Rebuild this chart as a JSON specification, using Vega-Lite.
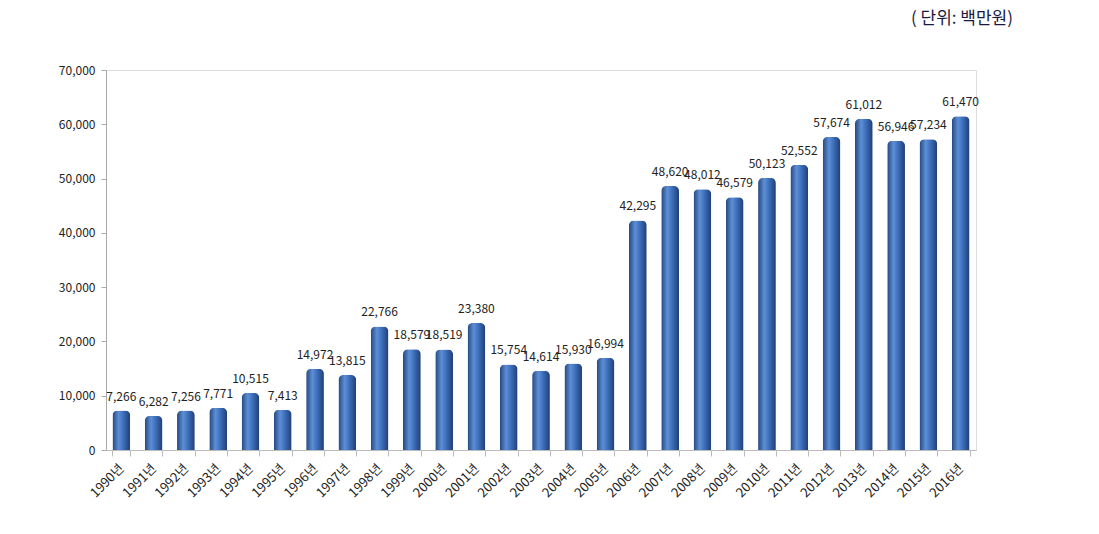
{
  "$schema": "https://vega.github.io/schema/vega-lite/v6.json",
  "autosize": {"type": "none"},
  "width": 870,
  "height": 380,
  "padding": {"left": 106, "top": 70, "right": 123, "bottom": 84},
  "background": "white",
  "title": {
    "text": "( 단위:  백만원)",
    "anchor": "end",
    "offset": 36,
    "dx": 34,
    "fontSize": 17,
    "font": "Noto Sans CJK KR",
    "fontWeight": "normal",
    "color": "#1a1a40"
  },
  "data": {
    "values": [
      {"year": "1990년", "value": 7266},
      {"year": "1991년", "value": 6282},
      {"year": "1992년", "value": 7256},
      {"year": "1993년", "value": 7771},
      {"year": "1994년", "value": 10515},
      {"year": "1995년", "value": 7413},
      {"year": "1996년", "value": 14972},
      {"year": "1997년", "value": 13815},
      {"year": "1998년", "value": 22766},
      {"year": "1999년", "value": 18579},
      {"year": "2000년", "value": 18519},
      {"year": "2001년", "value": 23380},
      {"year": "2002년", "value": 15754},
      {"year": "2003년", "value": 14614},
      {"year": "2004년", "value": 15930},
      {"year": "2005년", "value": 16994},
      {"year": "2006년", "value": 42295},
      {"year": "2007년", "value": 48620},
      {"year": "2008년", "value": 48012},
      {"year": "2009년", "value": 46579},
      {"year": "2010년", "value": 50123},
      {"year": "2011년", "value": 52552},
      {"year": "2012년", "value": 57674},
      {"year": "2013년", "value": 61012},
      {"year": "2014년", "value": 56946},
      {"year": "2015년", "value": 57234},
      {"year": "2016년", "value": 61470}
    ]
  },
  "encoding": {
    "x": {
      "field": "year",
      "type": "nominal",
      "sort": null,
      "scale": {"paddingInner": 0.45, "paddingOuter": 0.2},
      "axis": {
        "title": null,
        "labelAngle": -45,
        "labelAlign": "right",
        "labelBaseline": "middle",
        "labelFont": "Noto Sans CJK KR",
        "labelFontSize": 13,
        "labelColor": "#222",
        "labelPadding": 10,
        "domainColor": "#bbbbbb",
        "tickColor": "#bbbbbb",
        "tickBand": "extent",
        "tickSize": 6,
        "grid": false
      }
    },
    "y": {
      "field": "value",
      "type": "quantitative",
      "scale": {"domain": [0, 70000], "nice": false},
      "axis": {
        "title": null,
        "values": [0, 10000, 20000, 30000, 40000, 50000, 60000, 70000],
        "format": ",d",
        "labelFont": "Noto Sans CJK KR",
        "labelFontSize": 12,
        "labelColor": "#222",
        "labelPadding": 6,
        "domainColor": "#aaaaaa",
        "tickColor": "#aaaaaa",
        "tickSize": 5,
        "grid": false
      }
    }
  },
  "layer": [
    {
      "mark": {
        "type": "bar",
        "cornerRadiusTopLeft": 5,
        "cornerRadiusTopRight": 5,
        "color": {
          "gradient": "linear",
          "x1": 0, "y1": 0, "x2": 1, "y2": 0,
          "stops": [
            {"offset": 0, "color": "#24487f"},
            {"offset": 0.35, "color": "#5d8fd6"},
            {"offset": 0.6, "color": "#3f70bd"},
            {"offset": 1, "color": "#1f3f74"}
          ]
        }
      }
    },
    {
      "mark": {
        "type": "text",
        "dy": -14,
        "font": "Noto Sans CJK KR",
        "fontSize": 12,
        "color": "#222"
      },
      "encoding": {
        "text": {"field": "value", "type": "quantitative", "format": ","}
      }
    }
  ]
}
